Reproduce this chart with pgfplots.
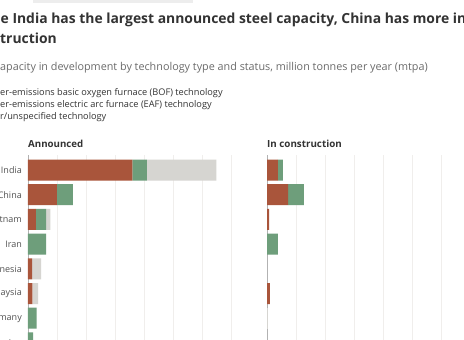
\documentclass[border=0pt]{standalone}
\usepackage{fontspec}
\setmainfont{Open Sans}
\usepackage{pgfplots}
\pgfplotsset{compat=1.18}
\usepackage{pgfplotstable}
\definecolor{bof}{HTML}{A9553B}
\definecolor{eaf}{HTML}{6E9E7B}
\definecolor{oth}{HTML}{D6D5D1}
\definecolor{txt}{HTML}{333333}
\definecolor{sub}{HTML}{6B6B6B}
\definecolor{grd}{HTML}{F0EEEC}

\pgfplotstableread{
idx bof eaf oth
0 72 10 48
1 20 11 0
2 5.5 7 3
3 0 12.5 0
4 2.8 0 6.2
5 3 0 4
6 0 6 0
7 0 3.5 0
}\announced

\pgfplotstableread{
idx bof eaf oth
0 7.5 3.5 0
1 14.5 11 0
2 1.5 0 0
3 0 7.5 0
4 0 0 0
5 2 0 0
6 0 0 0.7
7 0 0 0
}\construction

\pgfplotsset{
  panel/.style={
    scale only axis, width=203pt, height=207.5pt,
    xmin=0, xmax=140, ymin=-0.6, ymax=7.8, y dir=reverse,
    xbar stacked, bar width=21pt,
    xtick={0,20,...,140}, xticklabels={},
    ytick={0,...,7},
    xmajorgrids, grid style={grd, line width=0.8pt},
    axis line style={draw=none}, major tick length=0pt,
    clip=false,
    yticklabel style={font=\fontsize{9}{10}\selectfont, text=txt!85, inner sep=0pt, xshift=-6pt, anchor=east},
  }
}

\begin{document}
\begin{tikzpicture}[x=1pt,y=1pt]
\fill[white] (0,-340) rectangle (464,0);
\clip (0,-340) rectangle (464,0);
\begin{pgfinterruptboundingbox}
\fill[black!7] (33,0) rectangle (193,-3);

\node[anchor=base west, inner sep=0, text=txt, font=\fontsize{13.9}{16}\selectfont\bfseries] at (0.5,-23.5) {\llap{Whil}e India has the largest announced steel capacity, China has more in};
\node[anchor=base west, inner sep=0, text=txt, font=\fontsize{13.9}{16}\selectfont\bfseries] at (0,-43) {\llap{cons}truction};
\node[anchor=base west, inner sep=0, text=sub, font=\fontsize{10.8}{12}\selectfont] at (0,-70.5) {\llap{Steel c}apacity in development by technology type and status, million tonnes per year (mtpa)};
\node[anchor=base west, inner sep=0, text=txt, font=\fontsize{9.2}{10}\selectfont] at (0,-95) {\llap{Low}er-emissions basic oxygen furnace (BOF) technology};
\node[anchor=base west, inner sep=0, text=txt, font=\fontsize{9.2}{10}\selectfont] at (0,-107.5) {\llap{Low}er-emissions electric arc furnace (EAF) technology};
\node[anchor=base west, inner sep=0, text=txt, font=\fontsize{9.2}{10}\selectfont] at (0,-119.5) {\llap{Highe}r/unspecified technology};

\node[anchor=base west, inner sep=0, text=txt, font=\fontsize{9.7}{10}\selectfont\bfseries] at (28,-147.5) {Announced};
\node[anchor=base west, inner sep=0, text=txt, font=\fontsize{9.8}{10}\selectfont\bfseries] at (267,-147.5) {In construction};

\begin{axis}[panel, at={(28pt,-155.2pt)}, anchor=north west,
  yticklabels={India,China,Vietnam,Iran,Indonesia,Malaysia,Germany,Sweden}]
\addplot[fill=bof, draw=none] table[x=bof, y=idx] {\announced};
\addplot[fill=eaf, draw=none] table[x=eaf, y=idx] {\announced};
\addplot[fill=oth, draw=none] table[x=oth, y=idx] {\announced};
\draw[black!30, line width=0.6pt] (axis cs:0,-0.6) -- (axis cs:0,7.8);
\end{axis}

\begin{axis}[panel, at={(267pt,-155.2pt)}, anchor=north west, yticklabels={}]
\addplot[fill=bof, draw=none] table[x=bof, y=idx] {\construction};
\addplot[fill=eaf, draw=none] table[x=eaf, y=idx] {\construction};
\addplot[fill=oth, draw=none] table[x=oth, y=idx] {\construction};
\draw[black!30, line width=0.6pt] (axis cs:0,-0.6) -- (axis cs:0,7.8);
\end{axis}
\end{pgfinterruptboundingbox}
\end{tikzpicture}
\end{document}
